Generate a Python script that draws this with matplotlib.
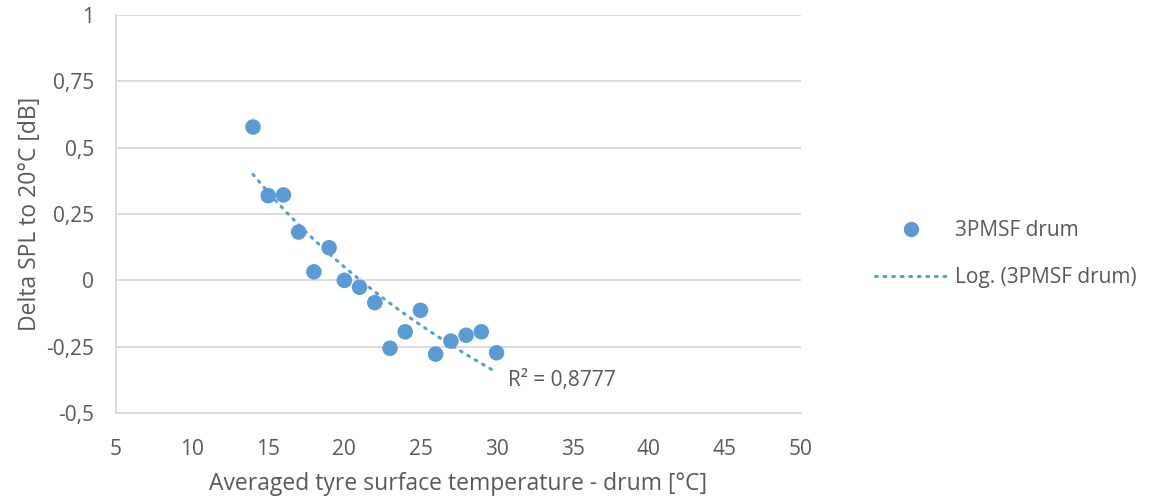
import numpy as np
import matplotlib.pyplot as plt
from matplotlib.lines import Line2D

# temperature (deg C) and delta SPL (dB)
temp = [14, 15, 16, 17, 18, 19, 20, 21, 22, 23, 24, 25, 26, 27, 28, 29, 30]
delta_spl = [0.578, 0.319, 0.322, 0.182, 0.032, 0.123, 0.0, -0.026, -0.084,
             -0.256, -0.194, -0.113, -0.278, -0.229, -0.207, -0.194, -0.273]

x_ticks = [5, 10, 15, 20, 25, 30, 35, 40, 45, 50]
y_ticks = [-0.5, -0.25, 0, 0.25, 0.5, 0.75, 1]
y_tick_labels = ["-0,5", "-0,25", "0", "0,25", "0,5", "0,75", "1"]
r2_label = "R² = 0,8777"

blue = "#5b9bd5"
grey_text = "#595959"
grid_col = "#d9d9d9"
dots = (0, (0.6, 2.2))

plt.rcParams["font.family"] = ["Open Sans", "DejaVu Sans"]

fig = plt.figure(figsize=(11.54, 5.04), dpi=100)
ax = fig.add_axes([116 / 1154, 1 - 413 / 504, (801 - 116) / 1154, (413 - 15) / 504])

x = np.array(temp, dtype=float)
y = np.array(delta_spl)

# log trendline like excel: y = a*ln(x) + b
a, b = np.polyfit(np.log(x), y, 1)
xs = np.linspace(x.min(), x.max(), 200)
ax.plot(xs, a * np.log(xs) + b, color=blue, lw=2.2,
        linestyle=dots, dash_capstyle="round", zorder=3)

ax.scatter(x, y, s=125, color=blue, edgecolors="none", zorder=4)

ax.text(30.75, -0.397, r2_label, fontsize=15, color=grey_text,
        ha="left", va="baseline")

ax.set_xlim(5, 50)
ax.set_ylim(-0.5, 1)
ax.set_xticks(x_ticks)
ax.set_yticks(y_ticks)
ax.set_yticklabels(y_tick_labels)
ax.tick_params(length=0, labelsize=15, colors=grey_text)
ax.tick_params(axis="y", pad=16)
ax.tick_params(axis="x", pad=18.5)

ax.grid(axis="y", color=grid_col, lw=1.3)
ax.set_axisbelow(True)
for s in ["top", "right"]:
    ax.spines[s].set_visible(False)
for s in ["left", "bottom"]:
    ax.spines[s].set_color(grid_col)
    ax.spines[s].set_linewidth(1.3)

ax.set_xlabel("Averaged tyre surface temperature - drum [°C]", fontsize=16.5,
              color=grey_text, labelpad=9)
ax.set_ylabel("Delta SPL to 20°C [dB]", fontsize=16.5, color=grey_text, labelpad=2.5)

handles = [
    Line2D([], [], marker="o", linestyle="none", markersize=11,
           markerfacecolor=blue, markeredgecolor="none"),
    Line2D([], [], color=blue, lw=2.2, linestyle=dots, dash_capstyle="round"),
]
leg = fig.legend(handles, ["3PMSF drum", "Log. (3PMSF drum)"],
                 loc="center left", bbox_to_anchor=(865 / 1154, 1 - 254 / 504),
                 frameon=False, fontsize=15, handlelength=3.45,
                 handletextpad=0.35, labelspacing=1.25, borderpad=0)
for t in leg.get_texts():
    t.set_color(grey_text)

fig.savefig("out.png", dpi=100)
